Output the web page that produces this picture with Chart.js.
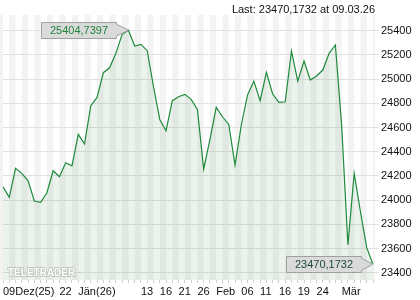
<!DOCTYPE html>
<html>
<head>
<meta charset="utf-8">
<script src="https://cdn.jsdelivr.net/npm/chart.js@4"></script>
<style>
  html, body { margin: 0; padding: 0; background: #fff; }
  canvas { display: block; }
</style>
</head>
<body>
<canvas id="chart" width="420" height="300"></canvas>
<script>
// trading days, 09.12.25 .. 09.03.26
const dates = [
    '09.12.25', '10.12.25', '11.12.25', '12.12.25', '15.12.25', '16.12.25', '17.12.25', '18.12.25', '19.12.25', '22.12.25',
    '23.12.25', '29.12.25', '30.12.25', '02.01.26', '05.01.26', '06.01.26', '07.01.26', '08.01.26', '09.01.26', '12.01.26',
    '13.01.26', '14.01.26', '15.01.26', '16.01.26', '19.01.26', '20.01.26', '21.01.26', '22.01.26', '23.01.26', '26.01.26',
    '27.01.26', '28.01.26', '29.01.26', '30.01.26', '02.02.26', '03.02.26', '04.02.26', '05.02.26', '06.02.26', '09.02.26',
    '10.02.26', '11.02.26', '12.02.26', '13.02.26', '16.02.26', '17.02.26', '18.02.26', '19.02.26', '20.02.26', '23.02.26',
    '24.02.26', '25.02.26', '26.02.26', '27.02.26', '02.03.26', '03.03.26', '04.03.26', '05.03.26', '06.03.26', '09.03.26',
];
const closes = [
    24111, 24023, 24263, 24221, 24160, 23993, 23982, 24061, 24243, 24193,
    24309, 24284, 24544, 24464, 24780, 24849, 25053, 25094, 25213, 25370,
    25404.7397, 25274, 25287, 25235, 24937, 24667, 24574, 24822, 24855, 24874,
    24833, 24750, 24257, 24502, 24767, 24689, 24626, 24290, 24621, 24869,
    24984, 24822, 25056, 24877, 24808, 24813, 25232, 24984, 25150, 24993,
    25026, 25075, 25213, 25282, 24620, 23629, 24221, 23904, 23607, 23470.1732,
];
const tickIndex = [0, 9, 12, 22, 25, 28, 31, 34, 38, 41, 44, 47, 50, 54];
const tickText = ['09Dez(25)', '22', 'Jän(26)', '13', '16', '21', '26', 'Feb', '06', '11', '16', '19', '24', 'Mär'];
const yTicks = [23400, 23600, 23800, 24000, 24200, 24400, 24600, 24800, 25000, 25200, 25400];

const FONT = '"Liberation Sans", Arial, sans-serif';

function fmt(v) {
    return v.toFixed(4).replace('.', ',');
}

// grey tag with a pointer to the point at (px, py)
function tag(ctx, px, py, text, color) {
    ctx.font = '11px ' + FONT;
    const w = Math.round(ctx.measureText(text).width + 17);
    const h = 16;
    const right = Math.round(px - 12) + 0.5;
    const left = right - w;
    const top = Math.round(py - h / 2) + 0.5;
    ctx.fillStyle = '#dadada';
    ctx.strokeStyle = '#a0a0a0';
    ctx.lineWidth = 1;
    ctx.beginPath();
    ctx.moveTo(left, top);
    ctx.lineTo(right, top);
    ctx.lineTo(right, py - 6);
    ctx.lineTo(px, py);
    ctx.lineTo(right, py + 6);
    ctx.lineTo(right, top + h);
    ctx.lineTo(left, top + h);
    ctx.closePath();
    ctx.fill();
    ctx.stroke();
    ctx.fillStyle = color;
    ctx.textAlign = 'center';
    ctx.textBaseline = 'middle';
    ctx.fillText(text, left + w / 2, top + h / 2 + 0.5);
}

const decor = {
    id: 'decor',
    beforeDraw(chart) {
        // alternating day stripes behind the grid
        const { ctx, chartArea: a } = chart;
        const x = chart.scales.x;
        ctx.save();
        ctx.fillStyle = '#f3f3f3';
        for (let i = -1; i < dates.length; i += 2) {
            const x0 = Math.max(x.getPixelForValue(i), 0);
            const x1 = Math.min(x.getPixelForValue(i + 1), a.right + 2);
            if (x1 > x0) ctx.fillRect(x0, a.top, x1 - x0, a.bottom - a.top);
        }
        ctx.restore();
    },
    afterDatasetsDraw(chart) {
        const { ctx, chartArea: a } = chart;
        const pts = chart.getDatasetMeta(0).data;
        ctx.save();

        // logo
        ctx.font = 'bold 10px ' + FONT;
        ctx.textAlign = 'left';
        ctx.textBaseline = 'alphabetic';
        ctx.lineWidth = 1.5;
        ctx.strokeStyle = '#b8bcb8';
        ctx.strokeText('TELETRADER', a.left + 5, a.bottom - 4);
        ctx.fillStyle = '#ffffff';
        ctx.fillText('TELETRADER', a.left + 5, a.bottom - 4);

        // max and last value tags
        let iMax = 0;
        closes.forEach((v, i) => { if (v > closes[iMax]) iMax = i; });
        const last = closes.length - 1;
        tag(ctx, pts[iMax].x, pts[iMax].y, fmt(closes[iMax]), '#22843e');
        tag(ctx, pts[last].x, pts[last].y, fmt(closes[last]), '#1e4d35');

        // header
        ctx.font = '11px ' + FONT;
        ctx.fillStyle = '#111';
        ctx.textAlign = 'right';
        ctx.textBaseline = 'alphabetic';
        ctx.fillText('Last: ' + fmt(closes[last]) + ' at ' + dates[last], a.right + 2, 13);
        ctx.restore();
    },
};

new Chart(document.getElementById('chart'), {
    type: 'line',
    data: {
        labels: dates,
        datasets: [
            {
                data: closes,
                borderColor: '#1e8a3c',
                borderWidth: 1.2,
                backgroundColor: 'rgba(40,120,40,0.09)',
                fill: 'start',
                pointRadius: 0,
                tension: 0,
            },
        ],
    },
    options: {
        responsive: false,
        animation: false,
        layout: { padding: { top: 15, left: 3, right: 0, bottom: 0 } },
        plugins: {
            legend: { display: false },
            tooltip: { enabled: false },
        },
        scales: {
            x: {
                offset: false,
                afterFit(scale) { scale.height = 20; },
                border: { display: false },
                grid: { drawOnChartArea: false, tickLength: 3, color: '#d0d0d0' },
                ticks: {
                    autoSkip: false,
                    maxRotation: 0,
                    align: 'start',
                    padding: 2,
                    color: '#111',
                    font: { size: 11, family: FONT },
                    callback(val, i) {
                        const k = tickIndex.indexOf(i);
                        return k < 0 ? '' : tickText[k];
                    },
                },
            },
            y: {
                position: 'right',
                min: 23340,
                max: 25530,
                afterBuildTicks(scale) { scale.ticks = yTicks.map((v) => ({ value: v })); },
                afterFit(scale) { scale.width = 47; },
                border: { display: false },
                grid: { color: '#e1e1e1', tickLength: 6 },
                ticks: {
                    padding: 2,
                    color: '#111',
                    font: { size: 11, family: FONT },
                    callback: (v) => String(v),
                },
            },
        },
    },
    plugins: [decor],
});
</script>
</body>
</html>
